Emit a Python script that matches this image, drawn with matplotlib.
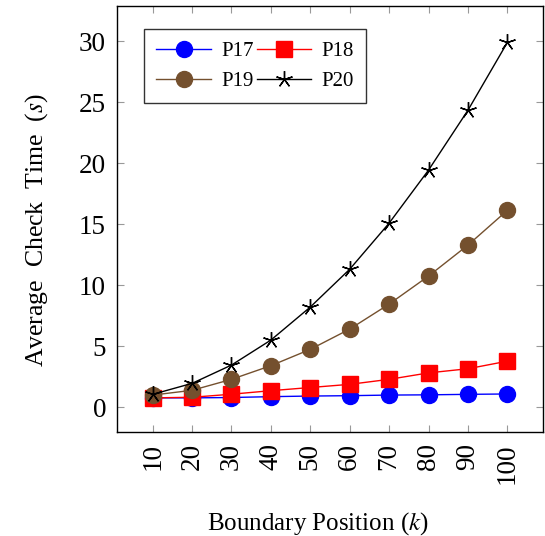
import numpy as np
import matplotlib.pyplot as plt

plt.rcParams['font.family'] = 'Liberation Serif'
plt.rcParams['mathtext.fontset'] = 'stix'

# Boundary position k and average check time (s) per program
k = [10, 20, 30, 40, 50, 60, 70, 80, 90, 100]
p17 = [0.75, 0.75, 0.78, 0.85, 0.9, 0.93, 0.98, 1.0, 1.04, 1.07]
p18 = [0.75, 0.8, 1.05, 1.34, 1.6, 1.86, 2.27, 2.8, 3.14, 3.76]
p19 = [0.98, 1.37, 2.27, 3.39, 4.73, 6.39, 8.44, 10.74, 13.28, 16.13]
p20 = [1.04, 1.94, 3.44, 5.49, 8.2, 11.3, 15.08, 19.43, 24.34, 29.9]

fig, ax = plt.subplots(figsize=(5.45, 5.36), dpi=100)
fig.subplots_adjust(left=0.215, right=0.996, top=0.989, bottom=0.194)

brown = '#74502e'
l17, = ax.plot(k, p17, '-o', color='blue', lw=1, ms=11.5, label='P17')
l18, = ax.plot(k, p18, '-s', color='red', lw=1, ms=11, label='P18')
l19, = ax.plot(k, p19, '-o', color=brown, lw=1, ms=11.5, label='P19')
l20, = ax.plot(k, p20, '-', color='black', lw=1, marker=(5, 2, 0), ms=12,
               mew=1, label='P20')

ax.set_xlim(1, 109)
ax.set_ylim(-2.05, 32.9)
ax.set_xticks(k)
ax.set_yticks([0, 5, 10, 15, 20, 25, 30])
ax.tick_params(direction='in', length=5, color='#999999', top=True, right=True,
               labelsize=19.5, pad=8)
ax.tick_params(axis='x', labelrotation=90)
for s in ax.spines.values():
    s.set_linewidth(1)

ax.set_xlabel('Boundary Position ($k$)', fontsize=18)
ax.set_ylabel('Average  Check  Time  ($s$)', fontsize=18.5)
ax.xaxis.set_label_coords(0.472, -0.183)
ax.yaxis.set_label_coords(-0.158, 0.474)

# row-wise legend order: P17 P18 / P19 P20
leg = ax.legend([l17, l19, l18, l20], ['P17', 'P19', 'P18', 'P20'],
                ncol=2, loc='upper left', bbox_to_anchor=(0.063, 0.946),
                borderaxespad=0, fontsize=15, frameon=True, fancybox=False,
                edgecolor='black', handlelength=2.6, columnspacing=0.15,
                handletextpad=0.5, borderpad=0.6, labelspacing=0.5)
leg.get_frame().set_linewidth(1)

plt.savefig('out.png', dpi=100)
